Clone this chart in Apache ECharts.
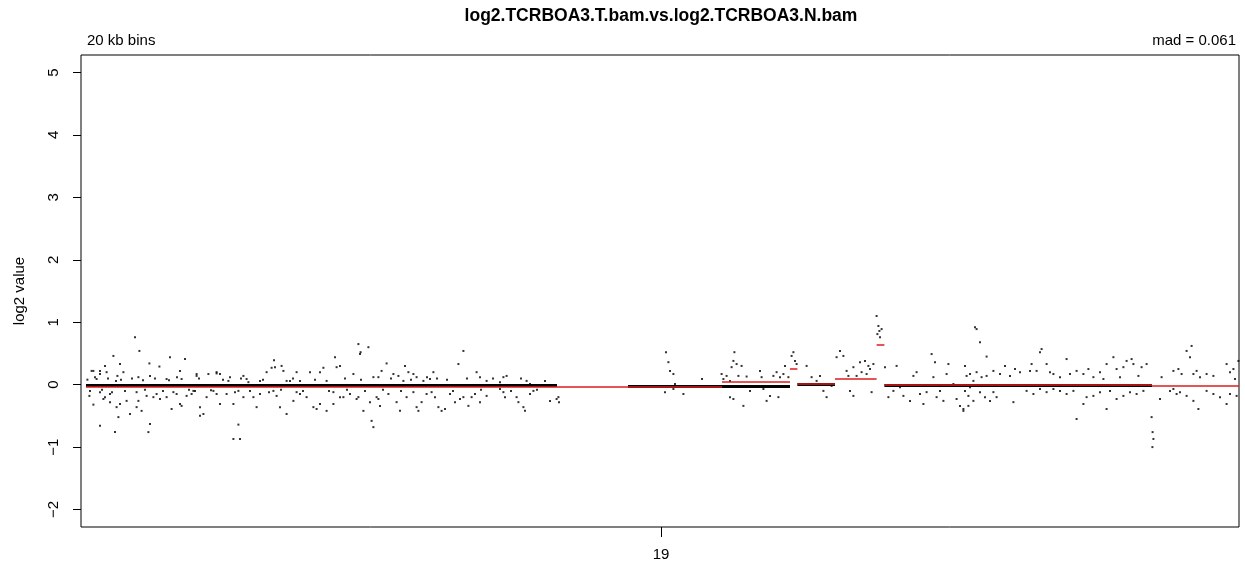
<!DOCTYPE html>
<html><head><meta charset="utf-8">
<script src="https://cdn.jsdelivr.net/npm/echarts@6/dist/echarts.min.js"></script>
<style>html,body{margin:0;padding:0;background:#fff}#c{width:1245px;height:562px}</style>
</head><body><div id="c"></div>
<script>
// ---- texts ----
const titleText = 'log2.TCRBOA3.T.bam.vs.log2.TCRBOA3.N.bam';
const binLabel = '20 kb bins';
const madLabel = 'mad = 0.061';
const yAxisName = 'log2 value';
// ---- ticks ----
const yTicks = [-2, -1, 0, 1, 2, 3, 4, 5];
const yTickLabels = ['\u22122', '\u22121', '0', '1', '2', '3', '4', '5'];
const xTicks = [29.0];
const xTickLabels = ['19'];
// ---- segmentation (Mb, log2) ----
const segStart = [0.25, 32.05, 35.45, 35.82, 37.7, 39.78, 40.17, 53.55];
const segEnd   = [32.05, 35.45, 35.82, 37.7, 39.78, 40.17, 53.55, 57.9];
const segMean  = [-0.035, 0.04, 0.26, 0.01, 0.10, 0.64, 0.005, -0.02];
// ---- dense runs of bins sitting on the baseline ----
const bandStart = [0.25, 27.35, 32.05, 35.82, 40.17];
const bandEnd   = [23.8, 32.05, 35.45, 37.7, 53.55];
const bandLevel = [-0.01, -0.02, -0.02, 0.0, -0.005];
// ---- scattered bins, p arm (Mb, log2) ----
const pointsP = [
[0.53,0.22],[0.32,0.08],[0.78,0.09],[0.95,0.22],[1.2,0.30],[1.62,0.46],[1.75,0.06],[1.82,0.14],[1.95,0.33],[2.7,0.76],
[2.92,0.54],[3.42,0.34],[3.92,0.29],[4.45,0.44],[4.95,0.22],[5.03,0.09],[5.2,0.41],[5.78,0.14],[6.37,0.17],[6.78,0.18],
[7.37,0.06],[8.37,0.04],[9.28,0.2],[9.53,0.27],[9.65,0.39],[10.12,0.22],[10.45,0.06],[10.95,0.06],[11.95,0.2],[12.12,0.27],
[12.7,0.44],[12.78,0.28],[13.62,0.17],[13.87,0.65],[13.98,0.52],[14.37,0.6],[14.87,0.12],[15.28,0.34],[15.87,0.14],[16.2,0.3],[16.62,0.17],
[0.42,-0.18],[0.62,-0.32],[0.95,-0.66],[1.12,-0.23],[1.45,-0.15],[1.7,-0.76],[1.87,-0.52],[1.95,-0.31],[2.45,-0.47],[2.78,-0.36],
[2.87,-0.26],[3.37,-0.76],[3.45,-0.63],[3.78,-0.15],[3.95,-0.23],[4.28,-0.2],[4.53,-0.39],[4.78,-0.15],[5.03,-0.34],[5.53,-0.15],
[5.7,-0.1],[5.95,-0.36],[6.12,-0.47],[6.28,-0.2],[6.78,-0.15],[7.62,-0.31],[7.62,-0.87],[7.87,-0.64],[7.95,-0.87],[8.62,-0.2],
[8.78,-0.36],[9.78,-0.18],[10.28,-0.47],[10.62,-0.26],[10.95,-0.15],[11.62,-0.36],[11.78,-0.39],[12.28,-0.42],[12.62,-0.31],[12.95,-0.2],
[13.45,-0.15],[13.87,-0.2],[14.45,-0.28],[14.53,-0.58],[14.62,-0.68],[14.87,-0.23],[14.95,-0.34],[15.95,-0.42],[16.28,-0.2],[16.87,-0.42],
[0.62,0.22],[0.95,0.17],[1.28,0.2],[2.12,0.2],[2.87,0.12],[3.45,0.14],[4.28,0.09],[5.78,0.17],[6.78,0.2],[6.95,0.17],
[7.45,0.12],[8.12,0.14],[8.28,0.09],[8.95,0.06],[9.7,0.28],[10.03,0.3],[10.28,0.06],[10.78,0.2],[11.45,0.2],[12.28,0.06],
[12.95,0.3],[13.95,0.49],[14.62,0.12],
[0.45,-0.1],[0.95,-0.12],[1.2,-0.2],[1.45,-0.28],[1.78,-0.36],[2.28,-0.26],[2.78,-0.12],[3.03,-0.42],[3.28,-0.18],[3.62,-0.2],
[4.62,-0.12],[4.95,-0.31],[5.28,-0.18],[5.62,-0.1],[5.95,-0.5],[6.62,-0.1],[6.95,-0.31],[7.28,-0.15],[7.87,-0.1],[8.12,-0.2],
[8.95,-0.15],[9.62,-0.1],[9.95,-0.36],[10.78,-0.12],[11.28,-0.2],[11.95,-0.31],[12.62,-0.12],[13.12,-0.2],[13.78,-0.23],[14.12,-0.42],[14.78,-0.2],
[15.03,0.22],[15.62,0.17],[16.12,0.06],[16.37,0.2],[16.78,0.12],[17.12,0.06],[17.45,0.09],[17.62,0.2],[18.87,0.33],[19.12,0.54],
[19.78,0.2],[19.95,0.12],[20.28,0.06],[20.95,0.04],[21.12,0.12],[21.28,0.14],[22.28,0.06],[22.45,0.01],
[15.37,-0.15],[15.78,-0.28],[16.62,-0.12],[16.78,-0.36],[17.03,-0.28],[17.28,-0.15],[17.53,-0.12],[17.7,-0.2],[17.87,-0.36],[18.03,-0.42],
[18.2,-0.39],[18.45,-0.15],[18.7,-0.28],[18.95,-0.23],[19.12,-0.2],[19.37,-0.34],[19.53,-0.2],[19.7,-0.15],[19.95,-0.28],[20.28,-0.18],
[20.95,-0.07],[21.12,-0.12],[21.2,-0.2],[21.78,-0.2],[21.87,-0.28],[22.12,-0.36],[22.2,-0.42],[22.45,-0.15],[22.62,-0.1],[23.45,-0.26],
[23.78,-0.23],[23.87,-0.2],[23.9,-0.28],
[0.7,0.12],[1.05,-0.08],[1.35,0.1],[1.55,-0.12],[2.0,0.08],[2.2,-0.1],[2.55,0.1],[3.1,0.07],[3.2,-0.08],[3.7,0.1],
[4.1,-0.1],[4.4,0.07],[4.8,0.12],[5.4,-0.08],[5.9,0.1],[6.5,-0.09],[7.1,0.08],[7.7,-0.12],[8.0,0.1],[8.45,-0.1],
[9.1,0.08],[9.4,-0.12],[10.0,-0.08],[10.6,0.1],[11.1,-0.1],[11.7,0.08],[12.4,-0.1],[13.2,0.1],[13.3,-0.08],[14.0,0.08],
[14.2,-0.1],[15.1,-0.08],[15.5,0.1],[16.0,-0.1],[16.5,0.08],[17.3,0.12],[17.8,0.1],[18.3,0.08],[18.6,-0.1],[19.3,0.1],
[20.0,-0.08],[20.6,0.1],[21.5,-0.1],[22.0,0.1],[22.8,-0.08],[23.2,0.06]
];
// ---- scattered bins, q arm (Mb, log2) ----
const pointsQ = [
[29.25,0.52],[29.37,0.36],[29.45,0.22],[29.62,0.17],[29.7,0.01],[29.2,-0.12],[29.62,-0.07],[30.12,-0.15],[31.05,0.09],
[32.03,0.17],[32.12,0.09],[32.28,0.14],[32.45,0.06],[32.53,0.28],[32.62,0.38],[32.67,0.52],[32.78,0.33],[32.87,0.14],[33.03,0.3],
[33.28,0.13],[33.45,-0.1],[33.12,-0.34],[32.45,-0.2],[32.62,-0.23],[33.95,0.22],[34.03,0.12],[34.12,-0.07],[34.28,-0.26],[34.45,-0.18],
[34.62,0.14],[34.78,0.2],[34.95,0.12],[35.12,0.17],[35.2,0.3],[35.37,0.12],[34.87,-0.2],[35.53,0.46],[35.62,0.52],[35.7,0.38],
[35.78,0.33],[36.28,0.3],[36.53,0.12],[36.78,0.06],[36.95,0.14],[37.12,-0.1],[37.28,-0.2],[37.53,-0.02],[37.78,0.44],[37.95,0.54],
[38.12,0.46],[38.28,0.22],[38.37,0.14],[38.62,0.28],[38.78,0.14],[38.95,0.36],[39.03,0.2],[39.2,0.38],[39.28,0.17],[39.37,0.3],
[39.45,0.25],[39.62,0.33],[38.45,-0.1],[38.62,-0.18],[39.53,-0.12],[39.78,1.1],[39.87,0.94],[39.92,0.86],[39.82,0.81],[39.95,0.76],
[40.03,0.89],[40.2,0.28],[40.37,-0.2],[40.62,-0.1],[40.78,0.3],[40.95,-0.04],[41.12,-0.18],[41.45,-0.26],[41.62,0.14],[41.78,0.2],
[41.95,-0.15],[42.12,-0.31],[42.28,-0.12],[42.53,0.49],[42.62,0.12],[42.7,0.36],[42.78,-0.2],[42.95,-0.1],[43.12,-0.26],[43.28,0.17],
[43.37,0.33],[43.62,0.01],[43.78,-0.23],[43.95,-0.34],[44.12,-0.39],[44.28,0.14],[44.45,-0.04],[44.62,0.06],[44.78,0.89],
[44.7,0.92],[44.95,0.68],[45.28,0.45],[44.2,0.3],[44.45,0.17],[44.78,0.2],[45.03,0.12],[45.28,0.14],[45.62,0.22],[45.95,0.17],
[46.2,0.3],[46.45,0.14],[46.7,0.25],[46.95,0.2],[47.45,0.22],[47.53,0.33],[47.78,0.22],[47.95,0.52],[48.03,0.57],[48.28,0.33],
[48.45,0.2],[48.62,0.17],[48.95,0.12],[49.28,0.41],[49.45,0.17],[49.78,0.22],[50.12,0.17],[50.37,0.25],[50.62,0.12],[50.95,0.2],
[51.12,0.09],[51.28,0.33],[51.62,0.44],[51.78,0.25],[51.95,0.12],[52.12,0.28],[52.28,0.38],[52.53,0.41],[52.62,0.33],[52.87,0.14],
[53.03,0.28],[53.28,0.33],[54.03,0.12],[54.62,0.22],[54.87,0.25],[55.03,0.17],[55.28,0.54],[55.53,0.62],[55.45,0.44],[55.62,0.17],
[55.78,0.22],[55.95,0.12],[56.28,0.17],[56.62,0.14],[57.28,0.33],[57.45,0.2],[57.62,0.25],[57.7,0.09],[57.87,0.38],
[44.2,-0.1],[44.37,-0.18],[44.62,-0.26],[44.95,-0.12],[45.2,-0.2],[45.45,-0.26],[45.62,-0.12],[45.78,-0.2],[44.12,-0.42],[44.37,-0.34],
[46.62,-0.28],[47.28,-0.1],[47.62,-0.15],[47.95,-0.07],[48.28,-0.12],[48.62,-0.07],[48.95,-0.1],[49.28,-0.15],[49.62,-0.1],[49.78,-0.55],
[50.12,-0.31],[50.28,-0.2],[50.62,-0.18],[50.95,-0.12],[51.28,-0.39],[51.45,-0.1],[51.78,-0.23],[52.12,-0.18],[52.45,-0.12],[52.78,-0.15],
[53.12,-0.1],[53.53,-0.52],[53.58,-0.76],[53.62,-0.87],[53.57,-1.0],[53.95,-0.23],[54.45,-0.1],[54.62,-0.07],[54.78,-0.15],[54.95,-0.12],
[55.28,-0.18],[55.62,-0.26],[55.87,-0.39],[56.28,-0.1],[56.62,-0.15],[56.95,-0.2],[57.28,-0.31],[57.45,-0.15],[57.78,-0.18]
];

const FONT = '"Liberation Sans", Arial, Helvetica, sans-serif';
const chart = echarts.init(document.getElementById('c'), null, {renderer: 'canvas'});
chart.setOption({
  animation: false,
  backgroundColor: '#fff',
  grid: {left: 81, top: 55, width: 1158, height: 472, show: true, borderColor: '#000', borderWidth: 1, backgroundColor: 'transparent'},
  xAxis: {
    type: 'value', min: 0, max: 57.9,
    splitLine: {show: false}, axisLine: {show: false, onZero: false},
    axisTick: {show: true, customValues: xTicks, length: 10, lineStyle: {color: '#000', width: 1}},
    axisLabel: {show: true, customValues: xTicks, margin: 20, color: '#000', fontSize: 15, fontFamily: FONT,
      formatter: v => xTickLabels[xTicks.indexOf(v)] || ''}
  },
  yAxis: {
    type: 'value', min: -2.28, max: 5.28,
    name: yAxisName, nameLocation: 'middle', nameRotate: 90, nameGap: 54,
    nameTextStyle: {color: '#000', fontSize: 15, fontFamily: FONT},
    splitLine: {show: false}, axisLine: {show: false, onZero: false},
    axisTick: {show: true, customValues: yTicks, length: 8, lineStyle: {color: '#000', width: 1}},
    axisLabel: {show: true, customValues: yTicks, rotate: 90, margin: 20, color: '#000', fontSize: 15, fontFamily: FONT,
      formatter: v => yTickLabels[yTicks.indexOf(v)] || ''}
  },
  graphic: [
    {type: 'text', x: 661, y: 16, style: {text: titleText, font: 'bold 17.5px ' + FONT, fill: '#000', align: 'center', verticalAlign: 'middle'}},
    {type: 'text', x: 87, y: 41, style: {text: binLabel, font: '15px ' + FONT, fill: '#000', align: 'left', verticalAlign: 'middle'}},
    {type: 'text', x: 1236, y: 41, style: {text: madLabel, font: '15px ' + FONT, fill: '#000', align: 'right', verticalAlign: 'middle'}}
  ],
  series: [
    {type: 'lines', coordinateSystem: 'cartesian2d', silent: true, z: 1,
      data: bandStart.map((s, i) => ({coords: [[s, bandLevel[i]], [bandEnd[i], bandLevel[i]]]})),
      lineStyle: {color: '#000', width: 3, opacity: 1}},
    {type: 'scatter', silent: true, z: 2, symbol: 'rect', symbolSize: [2, 2],
      data: pointsP.concat(pointsQ), itemStyle: {color: '#000'}},
    {type: 'lines', coordinateSystem: 'cartesian2d', silent: true, z: 3,
      data: segStart.map((s, i) => ({coords: [[s, segMean[i]], [segEnd[i], segMean[i]]]})),
      lineStyle: {color: '#dd1c1c', width: 1.6, opacity: 1}}
  ]
});
</script></body></html>
